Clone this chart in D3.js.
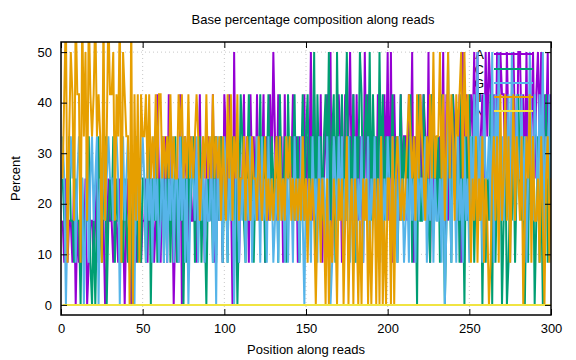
<!DOCTYPE html>
<html><head><meta charset="utf-8">
<script src="https://cdn.jsdelivr.net/npm/d3@7"></script>
<style>body{margin:0;background:#fff}svg{display:block}text{font-family:"Liberation Sans",Arial,sans-serif;fill:#000}</style>
</head><body><svg id="c" width="576" height="360"></svg>
<script>
const title = "Base percentage composition along reads";
const xLabel = "Position along reads";
const yLabel = "Percent";
const seriesNames = ["A","C","G","T","N"];
const seriesColors = ["#9400d3","#009e73","#56b4e9","#e69f00","#f0e442"];
const xTicks = [0,50,100,150,200,250,300];
const yTicks = [0,10,20,30,40,50];
// counts out of 12 reads per position (1..300)
const baseA = "2131221302 1221301221 2312220132 2122131202 3102212312 2314231253 1324152302 3150243142 2413523134 3251423415 4253062413 3524153425 2435142536 4253415243 3524143252 4362534251 3452613425 4135246352 5243163524 3425142536 2615342534 4253614325 3542615243 2436152435 4325163524 5463624536 4652536465 5364256436 6453625463 5646354625";
const baseC = "3212422132 2031224102 0242134023 2413222132 1320241213 3124032413 2413241324 1324031423 4132413203 2314132413 3142413025 4213524134 3524135243 2415324153 4352413524 5243615342 4536245163 3524634251 4365245362 5342635243 4352413524 3425143052 2534215342 4153024315 3241530425 2413524031 3250413240 2401324135 3240315240 2413025134";
const baseG = "4302343413 4330241342 3403242343 3244303423 4233042334 3142314231 2413132413 3142413024 3241324132 2413042314 3142303413 2413241324 3142314231 2314231413 3142314203 2314231423 3142014324 2413241324 1324132413 2413241324 3142314231 2314231423 3241324132 2314026314 3142314231 4253624153 3426153624 2435164253 3524136425 4253614352";
const baseT = "3571465275 5174627545 7454172475 5625471654 4070525154 4535343535 5343435343 3545343534 3454234353 4353434243 2535243523 3424324332 4323423232 3424232434 2323232423 1323202313 2030213203 2302402303 2020323020 2303040203 3040343232 3454342535 4324353634 4635246354 2545636453 1324132413 2013424152 3524135243 2402435142 2314203413";
const baseN = "0000000000 0000000000 0000000000 0000000000 0000000000 0000000000 0000000000 0000000000 0000000000 0000000000 0000000000 0000000000 0000000000 0000000000 0000000000 0000000000 0000000000 0000000000 0000000000 0000000000 0000000000 0000000000 0000000000 0000000000 0000000000 0000000000 0000000000 0000000000 0000000000 0000000000";
const nReads = 12;

const toPct = s => s.replace(/\s/g,"").split("").map(ch => +ch * 100 / nReads);
const series = [baseA, baseC, baseG, baseT, baseN].map(toPct);

const svg = d3.select("#c");
const L = 61, R = 551, T = 42, B = 315;
const x = d3.scaleLinear().domain([0,300]).range([L,R]);
const y = d3.scaleLinear().domain([-2,52]).range([B,T]);

// grid
const g = svg.append("g");
g.selectAll(".gy").data(yTicks).enter().append("line")
  .attr("x1",L).attr("x2",R).attr("y1",d=>y(d)).attr("y2",d=>y(d))
  .attr("stroke","#c8c8c8").attr("stroke-width",1).attr("stroke-dasharray","1,3");
g.selectAll(".gx").data(xTicks.slice(1,-1)).enter().append("line")
  .attr("y1",T).attr("y2",B).attr("x1",d=>x(d)).attr("x2",d=>x(d))
  .attr("stroke","#c8c8c8").attr("stroke-width",1).attr("stroke-dasharray","1,3");

// legend labels (drawn under data, as in reference)
const ly = [54,69,83,97,111];
svg.selectAll(".lt").data(seriesNames).enter().append("text")
  .attr("x",484).attr("y",(d,i)=>ly[i]+4.5).attr("text-anchor","end")
  .attr("font-size",13).text(d=>d);

// data lines
const clipId = "clp";
svg.append("clipPath").attr("id",clipId).append("rect").attr("x",L).attr("y",T).attr("width",R-L).attr("height",B-T);
const line = d3.line().x((d,i)=>x(i+1)).y(d=>y(d));
const dl = svg.append("g").attr("clip-path",`url(#${clipId})`);
series.forEach((s,k)=>{
  dl.append("path").datum(s).attr("d",line).attr("fill","none")
    .attr("stroke",seriesColors[k]).attr("stroke-width",2).attr("stroke-linejoin","miter");
});

// legend samples
svg.selectAll(".ls").data(seriesNames).enter().append("line")
  .attr("x1",494).attr("x2",533).attr("y1",(d,i)=>ly[i]).attr("y2",(d,i)=>ly[i])
  .attr("stroke",(d,i)=>seriesColors[i]).attr("stroke-width",2);

// axes
const ax = svg.append("g");
ax.append("g").attr("transform",`translate(0,${B})`).call(d3.axisBottom(x).tickValues(xTicks).tickSize(-6).tickPadding(9))
  .call(s=>{s.select(".domain").remove();s.selectAll("text").attr("font-size",13).attr("font-family","Liberation Sans, Arial, sans-serif");});
ax.append("g").attr("transform",`translate(0,${T})`).call(d3.axisTop(x).tickValues(xTicks).tickSize(-6).tickFormat(""))
  .call(s=>s.select(".domain").remove());
ax.append("g").attr("transform",`translate(${L},0)`).call(d3.axisLeft(y).tickValues(yTicks).tickSize(-6).tickPadding(9))
  .call(s=>{s.select(".domain").remove();s.selectAll("text").attr("font-size",13).attr("font-family","Liberation Sans, Arial, sans-serif");});
ax.append("g").attr("transform",`translate(${R},0)`).call(d3.axisRight(y).tickValues(yTicks).tickSize(-6).tickFormat(""))
  .call(s=>s.select(".domain").remove());
ax.selectAll(".tick line").attr("stroke","#000");
svg.append("rect").attr("x",L).attr("y",T).attr("width",R-L).attr("height",B-T)
  .attr("fill","none").attr("stroke","#000").attr("stroke-width",1.5);

// titles
svg.append("text").attr("x",(L+R)/2+7).attr("y",24).attr("text-anchor","middle").attr("font-size",13).text(title);
svg.append("text").attr("x",(L+R)/2).attr("y",354).attr("text-anchor","middle").attr("font-size",13).text(xLabel);
svg.append("text").attr("transform",`translate(20,${(T+B)/2}) rotate(-90)`).attr("text-anchor","middle").attr("font-size",13).text(yLabel);
</script></body></html>
